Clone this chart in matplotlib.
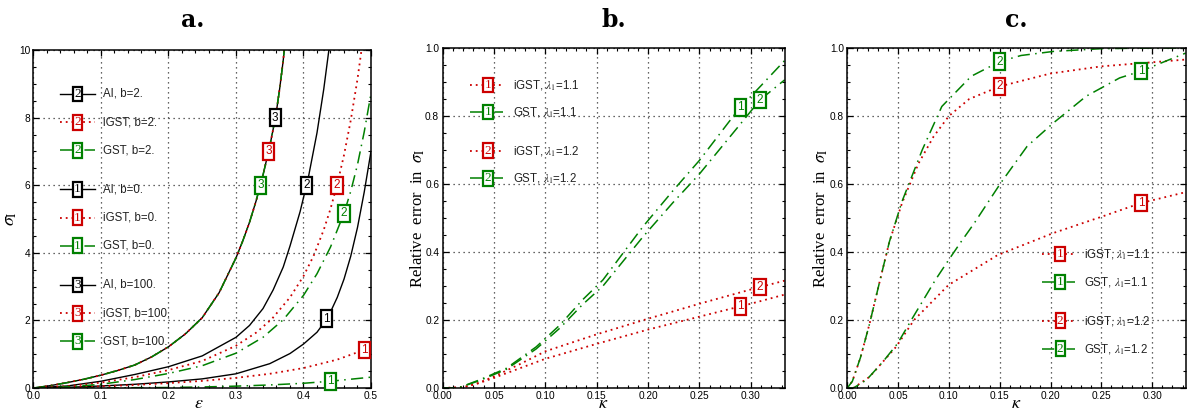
import numpy as np
import matplotlib
matplotlib.use('Agg')
import matplotlib.pyplot as plt
from matplotlib.ticker import MultipleLocator, FormatStrFormatter

plt.rcParams['font.family'] = ['Liberation Sans', 'DejaVu Sans']
plt.rcParams['mathtext.fontset'] = 'stix'

RED = '#cc0000'
GREEN = '#008000'
BLACK = 'black'

# ---- panel a: sigma_I vs epsilon ----
# b = 100 (all three models overlap)
eps_b100 = [0, 0.025, 0.05, 0.075, 0.1, 0.125, 0.15, 0.175, 0.2, 0.225, 0.25, 0.275,
            0.3, 0.31, 0.32, 0.33, 0.34, 0.35, 0.355, 0.36, 0.365, 0.37, 0.373]
sig_b100 = [0, 0.07, 0.16, 0.26, 0.38, 0.52, 0.68, 0.92, 1.22, 1.6, 2.08, 2.82,
            3.85, 4.35, 4.9, 5.55, 6.3, 7.15, 7.65, 8.2, 8.9, 9.7, 10.3]
# AI, b = 2
eps_ai2 = [0, 0.05, 0.1, 0.15, 0.2, 0.25, 0.3, 0.32, 0.34, 0.355, 0.37, 0.38,
           0.395, 0.407, 0.42, 0.43, 0.438]
sig_ai2 = [0, 0.06, 0.2, 0.4, 0.63, 0.95, 1.5, 1.85, 2.35, 2.9, 3.58, 4.2,
           5.22, 6.21, 7.55, 8.84, 10.06]
# iGST, b = 2
eps_igst2 = [0, 0.05, 0.1, 0.15, 0.2, 0.25, 0.3, 0.33, 0.353, 0.38, 0.4, 0.415,
             0.43, 0.44, 0.45, 0.46, 0.47, 0.48, 0.488]
sig_igst2 = [0, 0.05, 0.16, 0.32, 0.53, 0.8, 1.25, 1.64, 2.04, 2.68, 3.31, 3.91,
             4.68, 5.3, 6.03, 6.89, 7.92, 9.14, 10.3]
# GST, b = 2
eps_gst2 = [0, 0.05, 0.1, 0.15, 0.2, 0.25, 0.3, 0.34, 0.37, 0.4, 0.42, 0.44,
            0.46, 0.47, 0.48, 0.49, 0.5]
sig_gst2 = [0, 0.03, 0.11, 0.25, 0.43, 0.66, 1.03, 1.5, 2.02, 2.74, 3.38, 4.17,
            5.17, 5.82, 6.61, 7.58, 8.71]
# AI, b = 0
eps_ai0 = [0, 0.05, 0.1, 0.15, 0.2, 0.25, 0.3, 0.35, 0.38, 0.4, 0.42, 0.43, 0.44,
           0.45, 0.46, 0.47, 0.48, 0.49, 0.5]
sig_ai0 = [0, 0.02, 0.06, 0.11, 0.18, 0.27, 0.42, 0.72, 1.02, 1.3, 1.65, 1.92, 2.25,
           2.68, 3.22, 3.9, 4.75, 5.8, 7.0]
# iGST, b = 0
eps_igst0 = [0, 0.05, 0.1, 0.15, 0.2, 0.25, 0.3, 0.35, 0.4, 0.45, 0.5]
sig_igst0 = [0, 0.015, 0.05, 0.09, 0.145, 0.21, 0.3, 0.42, 0.59, 0.84, 1.2]
# GST, b = 0
eps_gst0 = [0, 0.1, 0.2, 0.25, 0.3, 0.35, 0.4, 0.44, 0.5]
sig_gst0 = [0, 0.003, 0.015, 0.03, 0.055, 0.09, 0.14, 0.2, 0.32]

legend_a = ['AI, b=2.', 'iGST, b=2.', 'GST, b=2.',
            'AI, b=0.', 'iGST, b=0.', 'GST, b=0.',
            'AI, b=100.', 'iGST, b=100.', 'GST, b=100.']
legend_a_num = ['2', '2', '2', '1', '1', '1', '3', '3', '3']

# ---- panel b: relative error vs kappa ----
kap_b_g1 = [0, 0.015, 0.036, 0.062, 0.091, 0.114, 0.136, 0.156, 0.195, 0.224, 0.25,
            0.288, 0.31, 0.333]
err_b_g1 = [0, 0.0, 0.024, 0.058, 0.121, 0.185, 0.259, 0.318, 0.475, 0.58, 0.67,
            0.82, 0.89, 0.964]
kap_b_g2 = [0, 0.015, 0.036, 0.062, 0.091, 0.114, 0.136, 0.156, 0.195, 0.224, 0.25,
            0.288, 0.309, 0.333]
err_b_g2 = [0, 0.0, 0.022, 0.055, 0.115, 0.176, 0.245, 0.30, 0.445, 0.545, 0.63,
            0.77, 0.848, 0.907]
kap_b_r = [0, 0.02, 0.035, 0.05, 0.075, 0.1, 0.15, 0.2, 0.25, 0.3, 0.333]
err_b_r1 = [0, 0.002, 0.014, 0.03, 0.058, 0.086, 0.13, 0.172, 0.21, 0.248, 0.275]
err_b_r2 = [0, 0.002, 0.015, 0.034, 0.07, 0.108, 0.158, 0.204, 0.248, 0.29, 0.316]

# ---- panel c ----
kap_c_g1 = [0, 0.006, 0.0188, 0.035, 0.0495, 0.064, 0.0867, 0.0996, 0.111, 0.125,
            0.151, 0.177, 0.203, 0.235, 0.268, 0.289, 0.333]
err_c_g1 = [0, 0.0, 0.0235, 0.077, 0.131, 0.205, 0.318, 0.376, 0.426, 0.485,
            0.603, 0.711, 0.78, 0.858, 0.912, 0.932, 0.985]
kap_c_r1 = [0, 0.006, 0.022, 0.048, 0.0657, 0.0996, 0.148, 0.203, 0.2515, 0.289, 0.333]
err_c_r1 = [0, 0.0, 0.033, 0.121, 0.2, 0.303, 0.391, 0.456, 0.505, 0.544, 0.576]
kap_c_g2 = [0, 0.005, 0.013, 0.022, 0.03, 0.0414, 0.054, 0.0737, 0.093, 0.122, 0.15,
            0.171, 0.203, 0.25, 0.3, 0.333]
err_c_g2 = [0, 0.02, 0.09, 0.19, 0.29, 0.43, 0.55, 0.70, 0.828, 0.917, 0.96,
            0.978, 0.99, 0.998, 1.0, 1.0]
kap_c_r2 = [0, 0.005, 0.013, 0.022, 0.03, 0.0414, 0.054, 0.07, 0.085, 0.1, 0.12,
            0.15, 0.2, 0.25, 0.3, 0.333]
err_c_r2 = [0, 0.02, 0.09, 0.19, 0.29, 0.43, 0.545, 0.66, 0.74, 0.8, 0.85,
            0.887, 0.925, 0.946, 0.958, 0.966]

legend_bc = ['iGST, $\\lambda_1$=1.1', 'GST, $\\lambda_1$=1.1',
             'iGST, $\\lambda_1$=1.2', 'GST, $\\lambda_1$=1.2']
legend_bc_num = ['1', '1', '2', '2']

SOLID = '-'
DOT = (0, (1, 2.2))
DASHDOT = (0, (8, 3.5, 1, 3.5))
STYLE = {'AI': (BLACK, SOLID, 1.0), 'iGST': (RED, DOT, 1.3), 'GST': (GREEN, DASHDOT, 1.1)}


def tag(ax, x, y, s, color, serif=False, trans=None):
    # numbered box sitting on a curve or in the legend
    if trans is None:
        trans = ax.transData
    if serif:
        ax.text(x, y, s, color=color, ha='center', va='center', fontsize=9.5,
                family=['Liberation Serif'], transform=trans, zorder=6,
                bbox=dict(boxstyle='square,pad=0.1', fc='white', ec=color, lw=1.6))
    else:
        ax.text(x, y, s, color=color, ha='center', va='center', fontsize=8.5,
                transform=trans, zorder=6,
                bbox=dict(boxstyle='square,pad=0.2', fc='white', ec=color, lw=1.6))


def style_axes(ax, xmaj, xmin, ymaj, ymin):
    ax.xaxis.set_major_locator(MultipleLocator(xmaj))
    ax.xaxis.set_minor_locator(MultipleLocator(xmin))
    ax.yaxis.set_major_locator(MultipleLocator(ymaj))
    ax.yaxis.set_minor_locator(MultipleLocator(ymin))
    ax.tick_params(which='both', direction='in', top=True, right=True,
                   labelsize=7.3, pad=2.5)
    ax.tick_params(which='major', length=4, width=0.9)
    ax.tick_params(which='minor', length=2.2, width=0.8)
    ax.grid(True, which='major', color='#333333', linestyle=(0, (1, 3)), lw=0.9)
    for sp in ax.spines.values():
        sp.set_linewidth(1.1)


fig = plt.figure(figsize=(11.87, 4.13), dpi=100)
ax_a = fig.add_axes([0.02822, 0.06053, 0.28433, 0.81840])
ax_b = fig.add_axes([0.37295, 0.06053, 0.28837, 0.82252])
ax_c = fig.add_axes([0.71382, 0.06053, 0.28534, 0.82324])

# ---------- panel a ----------
ax = ax_a
for model in ['AI', 'iGST', 'GST']:
    c, ls, lw = STYLE[model]
    ax.plot(eps_b100, sig_b100, color=c, ls=ls, lw=lw)
ax.plot(eps_ai2, sig_ai2, color=BLACK, ls=SOLID, lw=1.0)
ax.plot(eps_ai0, sig_ai0, color=BLACK, ls=SOLID, lw=1.0)
ax.plot(eps_igst2, sig_igst2, color=RED, ls=DOT, lw=1.3)
ax.plot(eps_igst0, sig_igst0, color=RED, ls=DOT, lw=1.3)
ax.plot(eps_gst2, sig_gst2, color=GREEN, ls=DASHDOT, lw=1.1)
ax.plot(eps_gst0, sig_gst0, color=GREEN, ls=DASHDOT, lw=1.1)
ax.set_xlim(0, 0.5)
ax.set_ylim(0, 10)
style_axes(ax, 0.1, 0.02, 2, 0.5)
ax.xaxis.set_major_formatter(FormatStrFormatter('%.1f'))
ax.set_xlabel(r'$\varepsilon$', fontsize=13)
ax.xaxis.set_label_coords(0.49, -0.022)
ax.set_ylabel(r'$\sigma_{\mathrm{I}}$', fontsize=13)
ax.yaxis.set_label_coords(-0.042, 0.5)

# labels on curves
tag(ax, np.interp(8.0, sig_b100, eps_b100), 8.0, '3', BLACK)
tag(ax, np.interp(7.0, sig_b100, eps_b100), 7.0, '3', RED)
tag(ax, np.interp(6.0, sig_b100, eps_b100), 6.0, '3', GREEN)
tag(ax, np.interp(6.0, sig_ai2, eps_ai2), 6.0, '2', BLACK)
tag(ax, np.interp(6.0, sig_igst2, eps_igst2), 6.0, '2', RED)
tag(ax, 0.46, np.interp(0.46, eps_gst2, sig_gst2), '2', GREEN)
tag(ax, 0.434, np.interp(0.434, eps_ai0, sig_ai0), '1', BLACK)
tag(ax, 0.49, np.interp(0.49, eps_igst0, sig_igst0), '1', RED)
tag(ax, 0.44, np.interp(0.44, eps_gst0, sig_gst0), '1', GREEN)

# legend
ys_a = [0.870, 0.786, 0.703, 0.588, 0.504, 0.421, 0.305, 0.221, 0.138]
for y, txt, num in zip(ys_a, legend_a, legend_a_num):
    model = txt.split(',')[0]
    c, ls, lw = STYLE[model]
    ax.plot([0.079, 0.183], [y, y], color=c, ls=ls, lw=lw, transform=ax.transAxes)
    tag(ax, 0.13, y, num, c, serif=True, trans=ax.transAxes)
    ax.text(0.205, y, txt, fontsize=8.3, va='center', ha='left',
            transform=ax.transAxes, color='#222222')


def kappa_panel(ax, curves, tags, legend_pos):
    for k, e, model in curves:
        c, ls, lw = STYLE[model]
        ax.plot(k, e, color=c, ls=ls, lw=lw)
    ax.set_xlim(0, 1 / 3)
    ax.set_ylim(0, 1)
    style_axes(ax, 0.05, 0.01, 0.2, 0.05)
    ax.xaxis.set_major_formatter(FormatStrFormatter('%.2f'))
    ax.yaxis.set_major_formatter(FormatStrFormatter('%.1f'))
    ax.set_xlabel(r'$\kappa$', fontsize=13)
    ax.set_ylabel(r'Relative  error  in  $\sigma_{\mathrm{I}}$', fontsize=12,
                  family=['Liberation Serif'])
    for x, k, e, num, c in tags:
        tag(ax, x, np.interp(x, k, e), num, c)
    bx, x0, x1, tx, ys = legend_pos
    for y, txt, num in zip(ys, legend_bc, legend_bc_num):
        model = txt.split(',')[0]
        c, ls, lw = STYLE[model]
        ax.plot([x0, x1], [y, y], color=c, ls=ls, lw=lw, transform=ax.transAxes)
        tag(ax, bx, y, num, c, serif=True, trans=ax.transAxes)
        ax.text(tx, y, txt, fontsize=8.3, va='center', ha='left',
                transform=ax.transAxes, color='#222222')


kappa_panel(ax_b,
            [(kap_b_r, err_b_r1, 'iGST'), (kap_b_r, err_b_r2, 'iGST'),
             (kap_b_g1, err_b_g1, 'GST'), (kap_b_g2, err_b_g2, 'GST')],
            [(0.29, kap_b_g1, err_b_g1, '1', GREEN), (0.309, kap_b_g2, err_b_g2, '2', GREEN),
             (0.29, kap_b_r, err_b_r1, '1', RED), (0.309, kap_b_r, err_b_r2, '2', RED)],
            (0.132, 0.08, 0.177, 0.2055, [0.892, 0.812, 0.699, 0.617]))
ax_b.xaxis.set_label_coords(0.468, -0.022)
ax_b.yaxis.set_label_coords(-0.045, 0.5)

kappa_panel(ax_c,
            [(kap_c_r1, err_c_r1, 'iGST'), (kap_c_r2, err_c_r2, 'iGST'),
             (kap_c_g1, err_c_g1, 'GST'), (kap_c_g2, err_c_g2, 'GST')],
            [(0.15, kap_c_g2, err_c_g2, '2', GREEN), (0.15, kap_c_r2, err_c_r2, '2', RED),
             (0.289, kap_c_g1, err_c_g1, '1', GREEN), (0.289, kap_c_r1, err_c_r1, '1', RED)],
            (0.6285, 0.575, 0.672, 0.699, [0.394, 0.312, 0.198, 0.116]))
ax_c.xaxis.set_label_coords(0.5, -0.022)
ax_c.yaxis.set_label_coords(-0.051, 0.5)

# panel titles
for xp, s in [(193, 'a.'), (614, 'b.'), (1016, 'c.')]:
    fig.text(xp / 1187, 1 - 20 / 413, s, fontsize=17, fontweight='bold',
             family=['DejaVu Serif'], ha='center', va='center')

fig.savefig('out.png', dpi=100)
